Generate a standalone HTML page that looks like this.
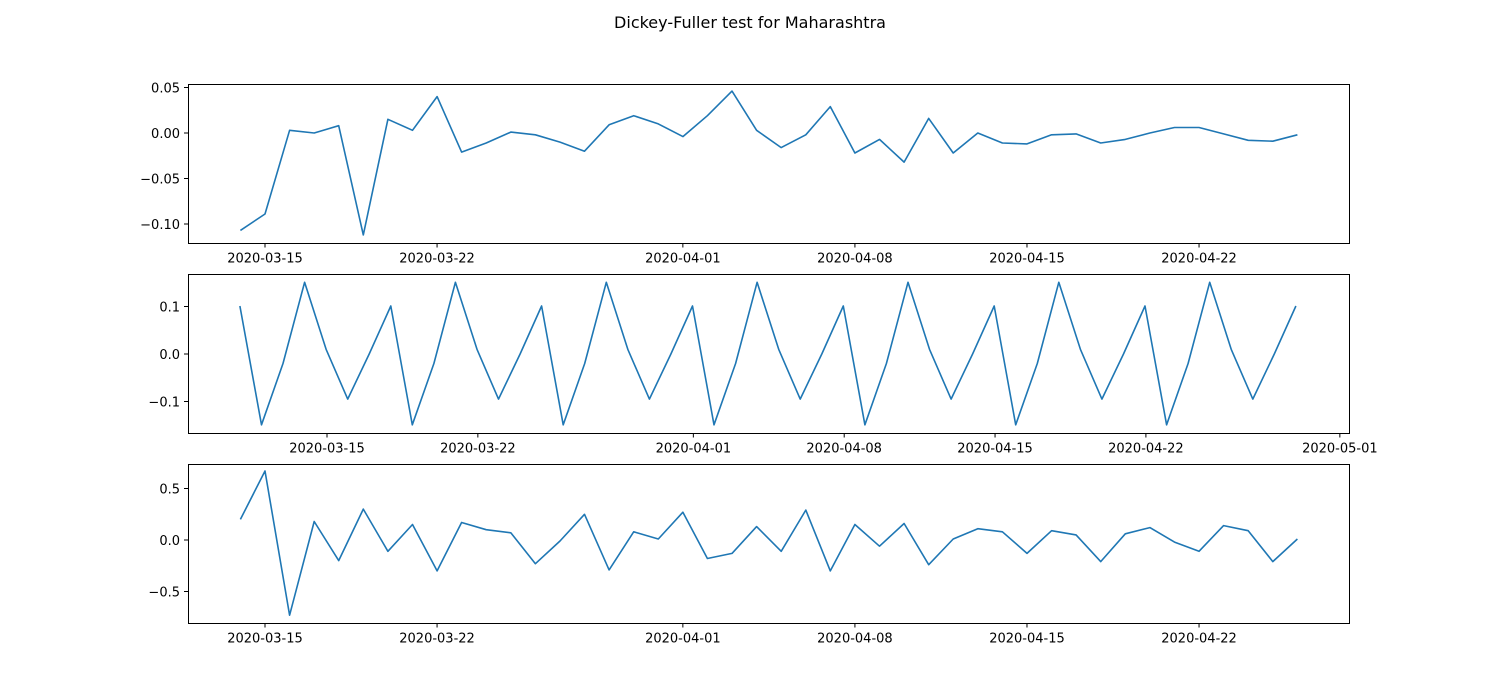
<!DOCTYPE html>
<html><head><meta charset="utf-8">
<style>
html,body{margin:0;padding:0;background:#fff;}
svg{display:block;font-family:"DejaVu Sans","Liberation Sans",sans-serif;}
</style></head>
<body>
<svg id="chart" width="1500" height="700" viewBox="0 0 1500 700">
<text x="750" y="28" text-anchor="middle" font-size="16" fill="#000">Dickey-Fuller test for Maharashtra</text>
</svg>
<script>
// day offsets relative to 2020-03-15
const tickLabels = ["2020-03-15","2020-03-22","2020-04-01","2020-04-08","2020-04-15","2020-04-22"];
const tickDays = [0,7,17,24,31,38];
const tickLabels2 = ["2020-03-15","2020-03-22","2020-04-01","2020-04-08","2020-04-15","2020-04-22","2020-05-01"];
const tickDays2 = [0,7,17,24,31,38,47];
const startDay = -1;      // 2020-03-14
const startDay2 = -4.04;  // seasonal component index start
const trendVals = [-0.107,-0.089,0.003,0.000,0.008,-0.112,0.015,0.003,0.040,-0.021,-0.011,0.001,-0.002,-0.010,-0.020,0.009,0.019,0.010,-0.004,0.019,0.046,0.003,-0.016,-0.002,0.029,-0.022,-0.007,-0.032,0.016,-0.022,0.000,-0.011,-0.012,-0.002,-0.001,-0.011,-0.007,0.000,0.006,0.006,-0.001,-0.008,-0.009,-0.002];
const seasonalPattern = [0.101,-0.149,-0.02,0.151,0.01,-0.095,0.0];
const seasonalCount = 50;
const residVals = [0.20,0.67,-0.73,0.18,-0.20,0.30,-0.11,0.15,-0.30,0.17,0.10,0.07,-0.23,-0.01,0.25,-0.29,0.08,0.01,0.27,-0.18,-0.13,0.13,-0.11,0.29,-0.30,0.15,-0.06,0.16,-0.24,0.01,0.11,0.08,-0.13,0.09,0.05,-0.21,0.06,0.12,-0.02,-0.11,0.14,0.09,-0.21,0.01];
const yTicks1 = [0.05,0.00,-0.05,-0.10], yLab1 = ["0.05","0.00","−0.05","−0.10"];
const yTicks2 = [0.1,0.0,-0.1], yLab2 = ["0.1","0.0","−0.1"];
const yTicks3 = [0.5,0.0,-0.5], yLab3 = ["0.5","0.0","−0.5"];

const NS="http://www.w3.org/2000/svg";
const svg=document.getElementById('chart');
function mk(tag,attrs,parent){const e=document.createElementNS(NS,tag);for(const k in attrs)e.setAttribute(k,attrs[k]);(parent||svg).appendChild(e);return e;}

function panel(cfg){
  const g=mk('g',{});
  
  
  const xs=d=>cfg.x0+(d-cfg.xd0)*cfg.xpd;
  const ys=v=>cfg.y0v-v*cfg.ypu;
  let pts=cfg.vals.map((v,i)=>xs(cfg.start+i).toFixed(1)+','+ys(v).toFixed(1)).join(' ');
  const pl=mk('polyline',{points:pts,fill:'none',stroke:'#1f77b4','stroke-width':1.6,'stroke-linejoin':'round'},g);
  
  
  const r=mk('rect',{x:188.5,y:cfg.top+0.5,width:1161,height:159,fill:'none',stroke:'#000','stroke-width':1},g);
  
  
  const bottom=cfg.top+159.5;
  cfg.xt.forEach((d,i)=>{
    const x=xs(d);
    mk('line',{x1:x,x2:x,y1:bottom,y2:bottom+4,stroke:'#000'},g);
    const t=mk('text',{x:x,y:bottom+19,'text-anchor':'middle','font-size':13},g);
    t.textContent=cfg.xl[i];
    
    
  });
  cfg.yt.forEach((v,i)=>{
    const y=ys(v);
    mk('line',{x1:184,x2:188.5,y1:y,y2:y,stroke:'#000'},g);
    const t=mk('text',{x:180,y:y+5,'text-anchor':'end','font-size':13},g);
    t.textContent=cfg.yl[i];
    
    
  });
}
const seasonalVals=[];
for(let i=0;i<seasonalCount;i++)seasonalVals.push(seasonalPattern[i%seasonalPattern.length]);

panel({name:'trend-panel',top:84,x0:265,xd0:0,xpd:24.58,y0v:133,ypu:910,vals:trendVals,start:startDay,xt:tickDays,xl:tickLabels,yt:yTicks1,yl:yLab1});
panel({name:'seasonal-panel',top:274,x0:327,xd0:0,xpd:21.55,y0v:354,ypu:475,vals:seasonalVals,start:startDay2,xt:tickDays2,xl:tickLabels2,yt:yTicks2,yl:yLab2});
panel({name:'residual-panel',top:464,x0:265,xd0:0,xpd:24.58,y0v:540,ypu:103,vals:residVals,start:startDay,xt:tickDays,xl:tickLabels,yt:yTicks3,yl:yLab3});
</script>
</body></html>
